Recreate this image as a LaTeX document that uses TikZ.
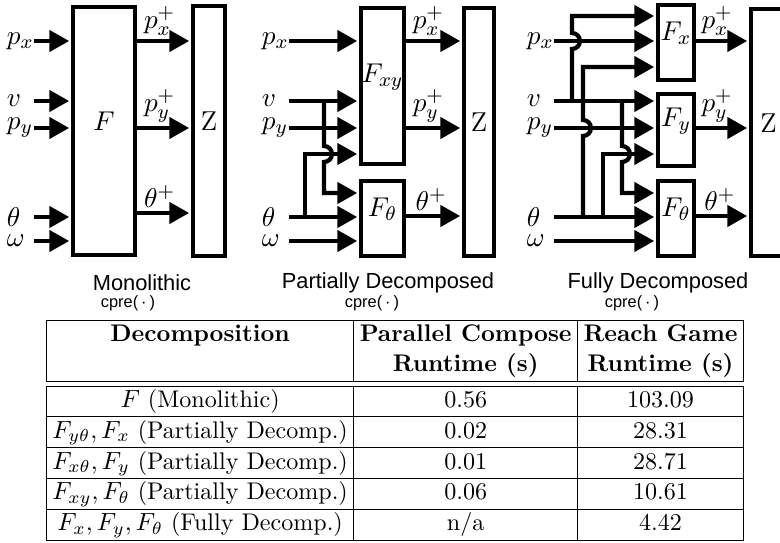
\documentclass[tikz,border=0pt]{standalone}
\usepackage{fontspec}
\newfontfamily\sansfam{Liberation Sans}
\usetikzlibrary{arrows.meta, fit}

\begin{document}
\begin{tikzpicture}[
    x=0.403pt, y=-0.403pt,
    >={Triangle[length=8pt, width=8.5pt]},
    blk/.style    = {draw, line width=1.7pt, inner sep=0pt, font=\fontsize{11}{13}\selectfont},
    wire/.style   = {line width=1.7pt},
    arr/.style    = {->, wire, shorten >=0.7pt},
    inlbl/.style  = {inner sep=0pt, text width=10.5pt, align=left, font=\fontsize{11}{13}\selectfont},
    outlbl/.style = {above, inner sep=1.5pt, font=\fontsize{11}{13}\selectfont},
    panel/.style  = {font=\sansfam\fontsize{8.8}{10}\selectfont},
    oplbl/.style  = {font=\sansfam\fontsize{6.6}{8}\selectfont},
]
\useasboundingbox (0,0) rectangle (780,543);

% ---------------- monolithic ----------------
\node[blk, fit={(73,7) (135,255)}] (mF) {$F$};
\node[blk, fit={(193,6) (225,256)}] (mZ) {Z};
\node[inlbl] (mpx) at (20,41) {$p_x$};
\node[inlbl] (mv)  at (20,101) {$v$};
\node[inlbl] (mpy) at (20,128) {$p_y$};
\node[inlbl] (mth) at (20,217) {$\theta$};
\node[inlbl] (mom) at (20,241) {$\omega$};
\foreach \n in {mpx, mv, mpy, mth, mom}
  \draw[arr] (\n.east) -- (\n.east -| mF.west);
\draw[arr] (mF.east |- mpx) -- (mZ.west |- mpx) node[outlbl, pos=0.42] {$p_x^+$};
\draw[arr] (mF.east |- mpy) -- (mZ.west |- mpy) node[outlbl, pos=0.42] {$p_y^+$};
\draw[arr] (mF.east |- 0,213) -- (mZ.west |- 0,213) node[outlbl, pos=0.42] {$\theta^+$};
\node[panel] (mtitle) at (142,283) {Monolithic};
\node[oplbl] (mop) at (128,303) {cpre(\,$\cdot$\,)};

% ---------------- partially decomposed ----------------
\node[blk, fit={(361,8) (404,164)}] (pFxy) {$F_{xy}$};
\node[blk, fit={(361,181) (404,256)}] (pFt) {$F_\theta$};
\node[blk, fit={(464,8) (494,256)}] (pZ) {Z};
\node[inlbl] (ppx) at (275,41) {$p_x$};
\node[inlbl] (pv)  at (275,101) {$v$};
\node[inlbl] (ppy) at (275,128) {$p_y$};
\node[inlbl] (pth) at (275,217) {$\theta$};
\node[inlbl] (pom) at (275,241) {$\omega$};
\coordinate (pvb) at (324,101);
\coordinate (ptb) at (305,217);
\foreach \n in {ppx, pv, ppy}
  \draw[arr] (\n.east) -- (\n.east -| pFxy.west);
\foreach \n in {pth, pom}
  \draw[arr] (\n.east) -- (\n.east -| pFt.west);
\draw[arr] (ptb) |- (pFxy.west |- 0,154);
\draw[arr] (pvb) -- ++(0,45) arc[start angle=-90, end angle=90, radius=8] |- (pFt.west |- 0,193);
\draw[arr] (pFxy.east |- ppx) -- (pZ.west |- ppx) node[outlbl, pos=0.4] {$p_x^+$};
\draw[arr] (pFxy.east |- ppy) -- (pZ.west |- ppy) node[outlbl, pos=0.4] {$p_y^+$};
\draw[arr] (pFt.east |- 0,216) -- (pZ.west |- 0,216) node[outlbl, pos=0.45] {$\theta^+$};
\node[panel] (ptitle) at (388,283) {Partially Decomposed};
\node[oplbl] (pop) at (372,303) {cpre(\,$\cdot$\,)};

% ---------------- fully decomposed ----------------
\node[blk, fit={(658,5) (694,80)}] (fFx) {$F_x$};
\node[blk, fit={(658,94) (694,166)}] (fFy) {$F_y$};
\node[blk, fit={(658,181) (694,256)}] (fFt) {$F_\theta$};
\node[blk, fit={(751,9) (786,256)}] (fZ) {Z};
\node[inlbl] (fpx) at (540,41) {$p_x$};
\node[inlbl] (fv)  at (540,101) {$v$};
\node[inlbl] (fpy) at (540,128) {$p_y$};
\node[inlbl] (fth) at (540,217) {$\theta$};
\node[inlbl] (fom) at (540,241) {$\omega$};
\coordinate (fvb1) at (572,101);
\coordinate (fvb2) at (622,101);
\coordinate (ftb1) at (583,217);
\coordinate (ftb2) at (603,217);
\draw[arr] (fpx.east) -- (fpx.east -| fFx.west);
\foreach \n in {fv, fpy}
  \draw[arr] (\n.east) -- (\n.east -| fFy.west);
\foreach \n in {fth, fom}
  \draw[arr] (\n.east) -- (\n.east -| fFt.west);
\draw[arr] (fvb1) -- ++(0,-52) arc[start angle=90, end angle=-90, radius=8] |- (fFx.west |- 0,16);
\draw[arr] (ftb1) -- ++(0,-81) arc[start angle=90, end angle=-90, radius=8] |- (fFx.west |- 0,67);
\draw[arr] (ftb2) |- (fFy.west |- 0,154);
\draw[arr] (fvb2) -- ++(0,45) arc[start angle=-90, end angle=90, radius=8] |- (fFt.west |- 0,193);
\draw[arr] (fFx.east |- fpx) -- (fZ.west |- fpx) node[outlbl, pos=0.4] {$p_x^+$};
\draw[arr] (fFy.east |- fpy) -- (fZ.west |- fpy) node[outlbl, pos=0.4] {$p_y^+$};
\draw[arr] (fFt.east |- 0,216) -- (fZ.west |- 0,216) node[outlbl, pos=0.45] {$\theta^+$};
\node[panel] (ftitle) at (658,283) {Fully Decomposed};
\node[oplbl] (fop) at (632,303) {cpre(\,$\cdot$\,)};

% ---------------- runtime table ----------------
\node[anchor=south west, inner sep=0pt, font=\fontsize{9.7}{12}\selectfont] (tbl) at (46,541) {%
  \setlength{\tabcolsep}{2.4pt}%
  \begin{tabular}{|c|c|c|}
    \hline
    \textbf{Decomposition} & \textbf{Parallel Compose} & \textbf{Reach Game}\\
                           & \textbf{Runtime (s)}      & \textbf{Runtime (s)}\\
    \hline\hline
    $F$ (Monolithic)                      & 0.56 & 103.09\\ \hline
    $F_{y\theta}, F_x$ (Partially Decomp.) & 0.02 & 28.31\\ \hline
    $F_{x\theta}, F_y$ (Partially Decomp.) & 0.01 & 28.71\\ \hline
    $F_{xy}, F_\theta$ (Partially Decomp.) & 0.06 & 10.61\\ \hline
    $F_x, F_y, F_\theta$ (Fully Decomp.)   & n/a  & 4.42\\ \hline
  \end{tabular}};

\end{tikzpicture}
\end{document}
